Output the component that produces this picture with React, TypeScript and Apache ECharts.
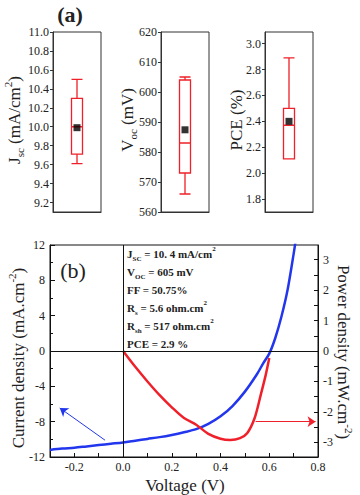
import React, { useEffect, useRef } from 'react';
import * as echarts from 'echarts';

// ---- Panel (a): box statistics [min, Q1, median, Q3, max] and means ----
const boxCategory = ['cell'];
const jscBox = [9.61, 9.71, 10.0, 10.3, 10.5];
const jscMean = [9.99];
const vocBox = [566, 573, 583, 604, 605];
const vocMean = [587.4];
const pceBox = [2.11, 2.11, 2.37, 2.5, 2.89];
const pceMean = [2.4];
const jscTicks = [9.2, 9.4, 9.6, 9.8, 10.0, 10.2, 10.4, 10.6, 10.8, 11.0];
const vocTicks = [560, 570, 580, 590, 600, 610, 620];
const pceTicks = [1.8, 2.0, 2.2, 2.4, 2.6, 2.8, 3.0];

// ---- Panel (b): J-V and P-V curves ----
const voltage = [-0.3, -0.25, -0.2, -0.15, -0.1, -0.05, 0, 0.05, 0.1, 0.15, 0.2, 0.25, 0.3, 0.35, 0.4, 0.45, 0.5, 0.55, 0.575, 0.6, 0.625, 0.65, 0.675, 0.7, 0.71];
const currentDensity = [-11.2, -11.05, -10.95, -10.8, -10.65, -10.5, -10.35, -10.15, -9.95, -9.75, -9.5, -9.2, -8.85, -8.25, -7.4, -6.2, -4.6, -2.6, -1.4, -0.3, 1.5, 3.9, 6.9, 11.0, 12.8];
const powerVoltage = [0, 0.05, 0.1, 0.15, 0.2, 0.25, 0.3, 0.35, 0.4, 0.44, 0.48, 0.51, 0.54, 0.565, 0.585, 0.6];
const powerDensity = [0, -0.52, -1.0, -1.45, -1.85, -2.2, -2.42, -2.72, -2.88, -2.92, -2.86, -2.69, -2.2, -1.44, -0.8, -0.23];
const xLabelValues = [-0.2, 0, 0.2, 0.4, 0.6, 0.8];
const xTickValues = [-0.2, -0.1, 0, 0.1, 0.2, 0.3, 0.4, 0.5, 0.6, 0.7];
const pTicks = [-3, -2, -1, 0, 1, 2, 3];
const pMinorTicks = [-3, -2.5, -2, -1.5, -1, -0.5, 0, 0.5, 1, 1.5, 2, 2.5, 3];
const blueArrow = [[-0.074, -10.1], [-0.26, -6.45]];
const redArrow = [[0.544, -2.32], [0.79, -2.32]];
const params = [
  '{m|J}{s|SC}{m| = 10. 4 mA/cm}{p|2}',
  '{m|V}{s|OC}{m| = 605 mV}',
  '{m|FF = 50.75%}',
  '{m|R}{s|s}{m| = 5.6 ohm.cm}{p|2}',
  '{m|R}{s|sh}{m| = 517 ohm.cm}{p|2}',
  '{m|PCE = 2.9 %}',
];

const SERIF = "'Liberation Serif', 'Times New Roman', serif";
const INK = '#222';
const RED = '#f0202a';
const BLUE = '#2236ee';

const tickRich = { t: { fontSize: 12, fontFamily: SERIF, color: INK } };

function boxGrid(left: number) {
  return { left, top: 32, width: 48, height: 180, show: true, borderColor: '#333', borderWidth: 1, containLabel: false };
}
function boxX(gridIndex: number) {
  return {
    type: 'category', gridIndex, data: boxCategory,
    axisLine: { show: true, lineStyle: { color: '#333' } },
    axisTick: { show: false }, axisLabel: { show: false }, splitLine: { show: false },
  };
}
function boxY(gridIndex: number, min: number, max: number, ticks: number[], digits: number) {
  return {
    type: 'value', gridIndex, min, max,
    axisLine: { show: true, lineStyle: { color: '#333' } },
    axisTick: { show: true, inside: false, length: 3, customValues: ticks, lineStyle: { color: '#333' } },
    axisLabel: {
      customValues: ticks, margin: 4, fontSize: 12, fontFamily: SERIF, color: INK, rich: tickRich,
      formatter: (v: number) => '{t|' + v.toFixed(digits) + '}',
    },
    splitLine: { show: false },
  };
}
function richText(x: number, y: number, text: string, rotation: number, size: number, weight = 'normal', align = 'center') {
  return {
    type: 'text', x, y, rotation,
    style: {
      text, align, verticalAlign: 'middle', fill: INK, fontFamily: SERIF, fontSize: size, fontWeight: weight,
      rich: {
        m: { fontSize: size, fontWeight: weight, fontFamily: SERIF, fill: INK, lineHeight: size + 6 },
        s: { fontSize: Math.round(size * 0.62), fontWeight: weight, fontFamily: SERIF, fill: INK, verticalAlign: 'bottom', lineHeight: size + 6 },
        p: { fontSize: Math.round(size * 0.62), fontWeight: weight, fontFamily: SERIF, fill: INK, verticalAlign: 'top', lineHeight: size + 6 },
      },
    },
  };
}

export default function App() {
  const ref = useRef<HTMLDivElement>(null);
  useEffect(() => {
    if (!ref.current) return;
    const chart = echarts.init(ref.current, undefined, { renderer: 'svg' });
    const blueData = voltage.map((v, i) => [v, currentDensity[i]]);
    const redData = powerVoltage.map((v, i) => [v, powerDensity[i]]);
    const boxSeries = (idx: number, box: number[], mean: number[]) => [
      {
        type: 'boxplot', xAxisIndex: idx, yAxisIndex: idx, data: [box], boxWidth: [11, 11],
        itemStyle: { color: 'rgba(0,0,0,0)', borderColor: RED, borderWidth: 1.3 },
      },
      {
        type: 'scatter', xAxisIndex: idx, yAxisIndex: idx, symbol: 'rect', symbolSize: 7,
        data: mean.map((m) => [boxCategory[0], m]), itemStyle: { color: '#000' }, z: 5,
      },
    ];
    const annotation = params.map((p, i) => richText(127, 254 + i * 18, p, 0, 11, 'bold', 'left'));
    chart.setOption({
      animation: false,
      backgroundColor: '#fff',
      textStyle: { fontFamily: SERIF },
      grid: [
        boxGrid(53), boxGrid(161), boxGrid(265),
        { left: 50, right: 42, top: 245, bottom: 38, show: true, borderColor: '#111', borderWidth: 1 },
      ],
      xAxis: [
        boxX(0), boxX(1), boxX(2),
        {
          type: 'value', gridIndex: 3, min: -0.3, max: 0.8,
          axisLine: { show: true, onZero: false, lineStyle: { color: '#111' } },
          axisTick: { show: true, inside: true, length: 4, customValues: xTickValues, lineStyle: { color: '#111' } },
          axisLabel: { customValues: xLabelValues, margin: 4, fontSize: 12, fontFamily: SERIF, color: INK, rich: tickRich, formatter: (v: number) => '{t|' + v.toFixed(1) + '}' },
          splitLine: { show: false },
        },
      ],
      yAxis: [
        boxY(0, 9.1, 11.0, jscTicks, 1),
        boxY(1, 560, 620, vocTicks, 0),
        boxY(2, 1.7, 3.09, pceTicks, 1),
        {
          type: 'value', gridIndex: 3, min: -12, max: 12, interval: 4, position: 'left',
          axisLine: { show: true, onZero: false, lineStyle: { color: '#111' } },
          axisTick: { show: true, inside: true, length: 5, lineStyle: { color: '#111' } },
          minorTick: { show: true, splitNumber: 2, length: 3, lineStyle: { color: '#111' } },
          axisLabel: { margin: 5, fontSize: 12, fontFamily: SERIF, color: INK, rich: tickRich, formatter: (v: number) => '{t|' + v + '}' },
          splitLine: { show: false }, minorSplitLine: { show: false },
        },
        {
          type: 'value', gridIndex: 3, min: -3.48, max: 3.48, position: 'right',
          axisLine: { show: true, onZero: false, lineStyle: { color: '#111' } },
          axisTick: { show: true, inside: true, length: 4, customValues: pMinorTicks, lineStyle: { color: '#111' } },
          axisLabel: { customValues: pTicks, margin: 5, fontSize: 12, fontFamily: SERIF, color: INK, rich: tickRich, formatter: (v: number) => '{t|' + v + '}' },
          splitLine: { show: false },
        },
      ],
      series: [
        ...boxSeries(0, jscBox, jscMean),
        ...boxSeries(1, vocBox, vocMean),
        ...boxSeries(2, pceBox, pceMean),
        {
          type: 'line', name: 'Current density', xAxisIndex: 3, yAxisIndex: 3, data: blueData,
          smooth: 0.3, showSymbol: false, lineStyle: { color: BLUE, width: 2.5 }, itemStyle: { color: BLUE }, z: 3,
          markLine: {
            silent: true, symbol: ['none', 'none'], symbolSize: 8, label: { show: false },
            lineStyle: { color: '#111', width: 1, type: 'solid' },
            data: [
              { yAxis: 0 },
              { xAxis: 0 },
              [
                { coord: blueArrow[0], symbol: 'none', lineStyle: { color: BLUE, width: 1, type: 'solid' } },
                { coord: blueArrow[1], symbol: 'arrow', lineStyle: { color: BLUE, width: 1, type: 'solid' } },
              ],
            ],
          },
        },
        {
          type: 'line', name: 'Power density', xAxisIndex: 3, yAxisIndex: 4, data: redData,
          smooth: 0.3, showSymbol: false, lineStyle: { color: RED, width: 2.5 }, itemStyle: { color: RED }, z: 4,
          markLine: {
            silent: true, symbol: ['none', 'arrow'], symbolSize: 8, label: { show: false },
            lineStyle: { color: RED, width: 1, type: 'solid' },
            data: [[{ coord: redArrow[0] }, { coord: redArrow[1] }]],
          },
        },
      ],
      graphic: [
        richText(70, 14, '{m|(a)}', 0, 22, 'bold'),
        richText(73, 270, '{m|(b)}', 0, 22),
        richText(14, 120, '{m|J}{s|sc}{m| (mA/cm}{p|2}{m|)}', Math.PI / 2, 17),
        richText(127, 120, '{m|V}{s|oc}{m| (mV)}', Math.PI / 2, 17),
        richText(236, 120, '{m|PCE (%)}', Math.PI / 2, 17),
        richText(18, 358, '{m|Current density (mA.cm}{p|-2}{m|)}', Math.PI / 2, 17),
        richText(343, 352, '{m|Power density (mW.cm}{p|-2}{m|)}', -Math.PI / 2, 17),
        richText(185, 485, '{m|Voltage (V)}', 0, 17),
        ...annotation,
      ],
    });
    return () => chart.dispose();
  }, []);
  return <div ref={ref} style={{ position: 'fixed', left: 0, top: 0, width: 360, height: 495 }} />;
}
